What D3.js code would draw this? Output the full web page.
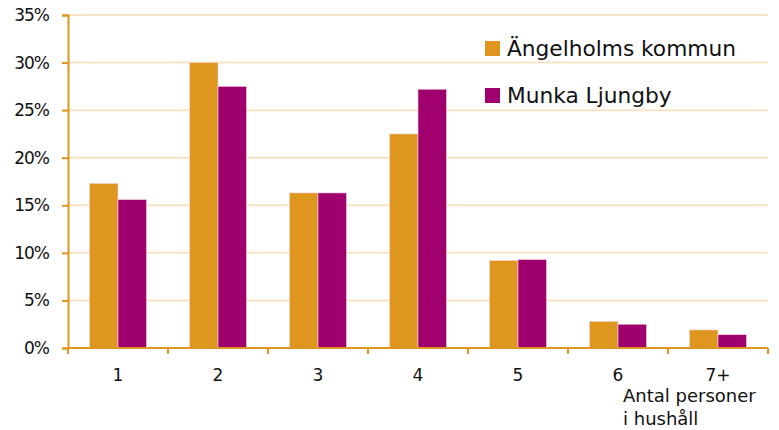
<!DOCTYPE html>
<meta charset="utf-8">
<style>
body { margin: 0; background: #fff; }
text { font-family: "DejaVu Sans", Verdana, sans-serif; fill: #111; }
</style>
<body>
<div id="chart"></div>
<script src="https://d3js.org/d3.v7.min.js"></script>
<script>

var categories = ["1", "2", "3", "4", "5", "6", "7+"];
var seriesNames = ["Ängelholms kommun", "Munka Ljungby"];
var angelholm = [17.3, 30.0, 16.3, 22.5, 9.2, 2.8, 1.9];
var munka = [15.6, 27.5, 16.3, 27.2, 9.3, 2.5, 1.4];
var yTicks = [0, 5, 10, 15, 20, 25, 30, 35];
var colors = ["#df961e", "#a0006e"];

var width = 779,
    height = 430,
    margin = {top: 15, right: 11, bottom: 82, left: 68};

var svg = d3.select("#chart").append("svg")
    .attr("width", width)
    .attr("height", height);

var x = d3.scaleBand()
    .domain(categories)
    .range([margin.left, width - margin.right])
    .paddingInner(0.43)
    .paddingOuter(0.215);

var xSub = d3.scaleBand()
    .domain([0, 1])
    .range([0, x.bandwidth()]);

var y = d3.scaleLinear()
    .domain([0, 35])
    .range([height - margin.bottom, margin.top]);

// gridlines
svg.selectAll("line.grid")
    .data(yTicks.slice(1))
    .enter()
    .append("line")
    .attr("class", "grid")
    .attr("x1", margin.left)
    .attr("x2", width - margin.right)
    .attr("y1", function(d) { return y(d); })
    .attr("y2", function(d) { return y(d); })
    .style("stroke", "#f7e4c6")
    .style("stroke-width", 2);

var rows = categories.map(function(c, i) {
    return {cat: c, values: [angelholm[i], munka[i]]};
});

var groups = svg.selectAll("g.cat")
    .data(rows)
    .enter()
    .append("g")
    .attr("transform", function(d) { return "translate(" + x(d.cat) + ",0)"; });

groups.selectAll("rect")
    .data(function(d) { return d.values; })
    .enter()
    .append("rect")
    .attr("x", function(d, i) { return xSub(i); })
    .attr("width", xSub.bandwidth())
    .attr("y", function(d) { return y(d); })
    .attr("height", function(d) { return y(0) - y(d); })
    .style("fill", function(d, i) { return colors[i]; })
    .style("stroke", "#f3d6e6")
    .style("stroke-width", 0.6);

// y axis
var yAxis = svg.append("g")
    .attr("transform", "translate(" + margin.left + ",0)")
    .call(d3.axisLeft(y).tickValues(yTicks).tickSize(6).tickPadding(13)
        .tickFormat(function(d) { return d + "%"; }));
yAxis.select(".domain").style("stroke", "#df961e").style("stroke-width", 2);
yAxis.selectAll(".tick line").style("stroke", "#df961e").style("stroke-width", 2);
yAxis.selectAll("text")
    .style("font-size", "17px")
    .style("letter-spacing", "-1px")
    .style("font-family", "'DejaVu Sans', Verdana, sans-serif")
    .style("fill", "#111");

// x axis
var xAxis = svg.append("g")
    .attr("transform", "translate(0," + y(0) + ")");
xAxis.append("line")
    .attr("x1", margin.left)
    .attr("x2", width - margin.right)
    .style("stroke", "#df961e")
    .style("stroke-width", 2);
xAxis.selectAll("line.tick")
    .data(d3.range(categories.length + 1))
    .enter()
    .append("line")
    .attr("x1", function(i) { return margin.left + i * (width - margin.left - margin.right) / categories.length; })
    .attr("x2", function(i) { return margin.left + i * (width - margin.left - margin.right) / categories.length; })
    .attr("y1", 0)
    .attr("y2", 6)
    .style("stroke", "#df961e")
    .style("stroke-width", 2);
xAxis.selectAll("text.cat")
    .data(categories)
    .enter()
    .append("text")
    .attr("x", function(d) { return x(d) + x.bandwidth() / 2; })
    .attr("y", 33)
    .attr("text-anchor", "middle")
    .style("font-size", "17px")
    .text(function(d) { return d; });

svg.append("text")
    .attr("x", 623)
    .attr("y", 402)
    .style("font-size", "18px")
    .text("Antal personer");
svg.append("text")
    .attr("x", 623)
    .attr("y", 425)
    .style("font-size", "18px")
    .text("i hushåll");

// legend
var legend = svg.selectAll("g.legend")
    .data(seriesNames)
    .enter()
    .append("g")
    .attr("transform", function(d, i) { return "translate(485," + (41 + i * 47) + ")"; });
legend.append("rect")
    .attr("width", 15)
    .attr("height", 15)
    .style("fill", function(d, i) { return colors[i]; });
legend.append("text")
    .attr("x", 22)
    .attr("y", 15)
    .style("font-size", "21.7px")
    .text(function(d) { return d; });

</script>
</body>
